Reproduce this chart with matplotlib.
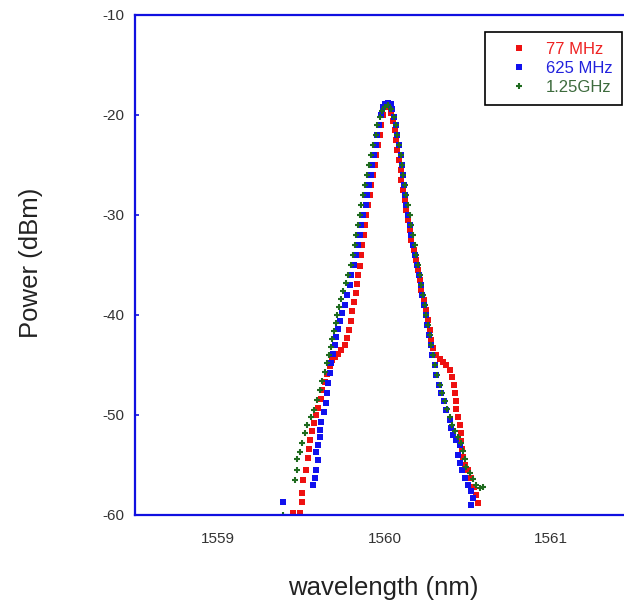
import matplotlib
matplotlib.use('Agg')
import matplotlib.pyplot as plt

plt.rcParams['font.family'] = ['Liberation Sans', 'DejaVu Sans']
plt.rcParams['axes.unicode_minus'] = False

# 77 MHz (red squares)
red_x = [1559.45, 1559.49, 1559.505, 1559.505, 1559.51, 1559.53, 1559.54, 1559.545, 1559.55,
         1559.565, 1559.575, 1559.59, 1559.60, 1559.615, 1559.625, 1559.64, 1559.655, 1559.67,
         1559.685, 1559.70, 1559.72, 1559.74, 1559.76, 1559.775, 1559.785, 1559.795, 1559.805,
         1559.815, 1559.825, 1559.835, 1559.84, 1559.85, 1559.86, 1559.865, 1559.875, 1559.88,
         1559.89, 1559.90, 1559.91, 1559.92, 1559.93, 1559.94, 1559.95, 1559.96, 1559.97,
         1559.98, 1559.99, 1560.00, 1560.01, 1560.02,
         1560.03, 1560.04, 1560.05, 1560.06, 1560.07, 1560.075, 1560.085, 1560.095, 1560.10,
         1560.11, 1560.12, 1560.13, 1560.14, 1560.15, 1560.16, 1560.175, 1560.185, 1560.20,
         1560.21, 1560.22, 1560.235, 1560.245, 1560.26, 1560.27, 1560.28, 1560.29, 1560.31,
         1560.33, 1560.35, 1560.37, 1560.39, 1560.405, 1560.415, 1560.42, 1560.425, 1560.43,
         1560.44, 1560.45, 1560.455, 1560.46, 1560.465, 1560.47, 1560.48, 1560.50, 1560.52,
         1560.535, 1560.55, 1560.56]
red_y = [-59.8, -59.8, -58.7, -57.8, -56.5, -55.5, -54.3, -53.4, -52.5,
         -51.6, -50.8, -50.0, -49.3, -48.4, -47.5, -46.7, -45.9, -45.1,
         -44.5, -44.2, -43.9, -43.5, -43.0, -42.3, -41.5, -40.6, -39.6,
         -38.7, -37.8, -36.9, -36.0, -35.1, -34.0, -33.0, -32.0, -31.0,
         -30.0, -29.0, -28.0, -27.0, -26.0, -25.0, -24.0, -23.0, -22.0,
         -21.0, -20.0, -19.2, -18.9, -18.9,
         -19.2, -19.8, -20.6, -21.5, -22.5, -23.5, -24.5, -25.5, -26.5,
         -27.5, -28.5, -29.5, -30.5, -31.5, -32.5, -33.5, -34.5, -35.5,
         -36.5, -37.5, -38.5, -39.5, -40.5, -41.5, -42.5, -43.3, -44.0,
         -44.4, -44.7, -45.0, -45.5, -46.2, -47.0, -47.8, -48.6, -49.4,
         -50.2, -51.0, -51.8, -52.6, -53.4, -54.2, -55.0, -55.5, -56.3,
         -57.2, -58.0, -58.8]

# 625 MHz (blue squares)
blue_x = [1559.39, 1559.57, 1559.58, 1559.59, 1559.60, 1559.585, 1559.60, 1559.61, 1559.61,
          1559.62, 1559.635, 1559.645, 1559.655, 1559.66, 1559.67, 1559.68, 1559.69, 1559.70,
          1559.71, 1559.72, 1559.73, 1559.745, 1559.76, 1559.775, 1559.79, 1559.80, 1559.815,
          1559.83, 1559.84, 1559.85, 1559.86, 1559.87, 1559.885, 1559.895, 1559.905, 1559.915,
          1559.925, 1559.935, 1559.945, 1559.955, 1559.965, 1559.975, 1559.99, 1560.00, 1560.02,
          1560.035,
          1560.045, 1560.055, 1560.065, 1560.075, 1560.085, 1560.095, 1560.105, 1560.11, 1560.115,
          1560.12, 1560.13, 1560.14, 1560.15, 1560.16, 1560.17, 1560.18, 1560.195, 1560.205,
          1560.215, 1560.225, 1560.235, 1560.245, 1560.255, 1560.265, 1560.275, 1560.285, 1560.30,
          1560.31, 1560.325, 1560.34, 1560.355, 1560.37, 1560.39, 1560.40, 1560.41, 1560.43,
          1560.45, 1560.44, 1560.45, 1560.465, 1560.48, 1560.50, 1560.52, 1560.53, 1560.52]
blue_y = [-58.7, -57.0, -56.3, -55.5, -54.5, -53.7, -53.0, -52.2, -51.5,
          -50.7, -49.7, -48.8, -47.8, -46.8, -45.8, -44.8, -43.9, -43.0,
          -42.2, -41.4, -40.6, -39.8, -39.0, -38.0, -37.0, -36.0, -35.0,
          -34.0, -33.0, -32.0, -31.0, -30.0, -29.0, -28.0, -27.0, -26.0,
          -25.0, -24.0, -23.0, -22.0, -21.0, -20.0, -19.2, -18.9, -18.8,
          -18.9,
          -19.4, -20.2, -21.0, -22.0, -23.0, -24.0, -25.0, -26.0, -27.0,
          -28.0, -29.0, -30.0, -31.0, -32.0, -33.0, -34.0, -35.0, -36.0,
          -37.0, -38.0, -39.0, -40.0, -41.0, -42.0, -43.0, -44.0, -45.0,
          -46.0, -47.0, -47.8, -48.6, -49.5, -50.5, -51.3, -52.0, -52.5,
          -53.0, -54.0, -54.8, -55.5, -56.3, -57.0, -57.6, -58.3, -59.0]

# 1.25 GHz (green crosses)
green_x = [1559.39, 1559.46, 1559.475, 1559.47, 1559.49, 1559.505, 1559.52, 1559.535, 1559.555,
           1559.575, 1559.595, 1559.61, 1559.625, 1559.64, 1559.655, 1559.665, 1559.675, 1559.685,
           1559.695, 1559.705, 1559.715, 1559.725, 1559.735, 1559.75, 1559.765, 1559.78, 1559.795,
           1559.81, 1559.82, 1559.83, 1559.84, 1559.85, 1559.86, 1559.87, 1559.88, 1559.895,
           1559.905, 1559.92, 1559.93, 1559.945, 1559.955, 1559.97, 1559.985, 1560.00, 1560.02,
           1560.04, 1560.055, 1560.065, 1560.075, 1560.085, 1560.095, 1560.105, 1560.11, 1560.12,
           1560.13, 1560.14, 1560.15, 1560.16, 1560.17, 1560.18, 1560.19, 1560.20, 1560.21,
           1560.22, 1560.23, 1560.24, 1560.25, 1560.26, 1560.27, 1560.28, 1560.29, 1560.30,
           1560.315, 1560.33, 1560.345, 1560.36, 1560.375, 1560.39, 1560.405, 1560.42, 1560.44,
           1560.46, 1560.47, 1560.48, 1560.49, 1560.51, 1560.53, 1560.55, 1560.57, 1560.59]
green_y = [-60.0, -56.5, -55.5, -54.4, -53.7, -52.8, -51.8, -51.0, -50.2,
           -49.5, -48.5, -47.5, -46.6, -45.7, -44.8, -44.0, -43.2, -42.4,
           -41.6, -40.8, -40.0, -39.2, -38.4, -37.6, -36.8, -36.0, -35.0,
           -34.0, -33.0, -32.0, -31.0, -30.0, -29.0, -28.0, -27.0, -26.0,
           -25.0, -24.0, -23.0, -22.0, -21.0, -20.2, -19.6, -19.2, -19.0,
           -19.4, -20.2, -21.0, -22.0, -23.0, -24.0, -25.0, -26.0, -27.0,
           -28.0, -29.0, -30.0, -31.0, -32.0, -33.0, -34.0, -35.0, -36.0,
           -37.0, -38.0, -39.0, -40.0, -41.0, -42.0, -43.0, -44.0, -45.0,
           -46.0, -47.0, -47.8, -48.6, -49.4, -50.2, -51.0, -51.6, -52.2,
           -52.8, -53.6, -54.4, -55.2, -55.8, -56.4, -57.0, -57.3, -57.2]

labels = ['77 MHz', '625 MHz', '1.25GHz']
colors = ['#ee1111', '#1111ee', '#1f6b1f']
text_colors = ['#ee2222', '#2222dd', '#3d6b3d']

W, H = 624, 602
fig = plt.figure(figsize=(W / 100, H / 100), dpi=100)
ax = fig.add_axes([135 / W, 1 - 515 / H, 499.5 / W, 500 / H])

ax.plot(red_x, red_y, ls='none', marker='s', ms=3.8, mew=0, color=colors[0], label=labels[0])
ax.plot(blue_x, blue_y, ls='none', marker='s', ms=3.8, mew=0, color=colors[1], label=labels[1])
ax.plot(green_x, green_y, ls='none', marker='+', ms=5, mew=1.5, color=colors[2], label=labels[2])

ax.set_xlim(1558.5, 1561.5)
ax.set_ylim(-60, -10)
ax.set_xticks([1559, 1560, 1561])
ax.set_yticks([-10, -20, -30, -40, -50, -60])
ax.tick_params(axis='x', length=0, pad=12, labelsize=11, labelcolor='#333333')
ax.tick_params(axis='y', direction='in', length=3, width=1.2, color='#1010e0',
               pad=8, labelsize=11, labelcolor='#333333')
for s in ax.spines.values():
    s.set_color('#1010e0')
    s.set_linewidth(1.6)

fig.text(383 / W, 1 - 588 / H, 'wavelength (nm)', fontsize=18.5, color='#222222',
         ha='center', va='center')
fig.text(31 / W, 1 - 263 / H, 'Power (dBm)', fontsize=18.5, color='#222222',
         ha='center', va='center', rotation=90)

leg = ax.legend(loc='upper left', bbox_to_anchor=(485 / W, 1 - 32 / H),
                bbox_transform=fig.transFigure, borderaxespad=0, fancybox=False,
                framealpha=1, edgecolor='black', fontsize=12, handlelength=2.9,
                handletextpad=0.15, labelspacing=0.25, borderpad=0.6, numpoints=1,
                labelcolor=text_colors)
leg.get_frame().set_linewidth(1.2)

fig.savefig('out.png', dpi=100)
